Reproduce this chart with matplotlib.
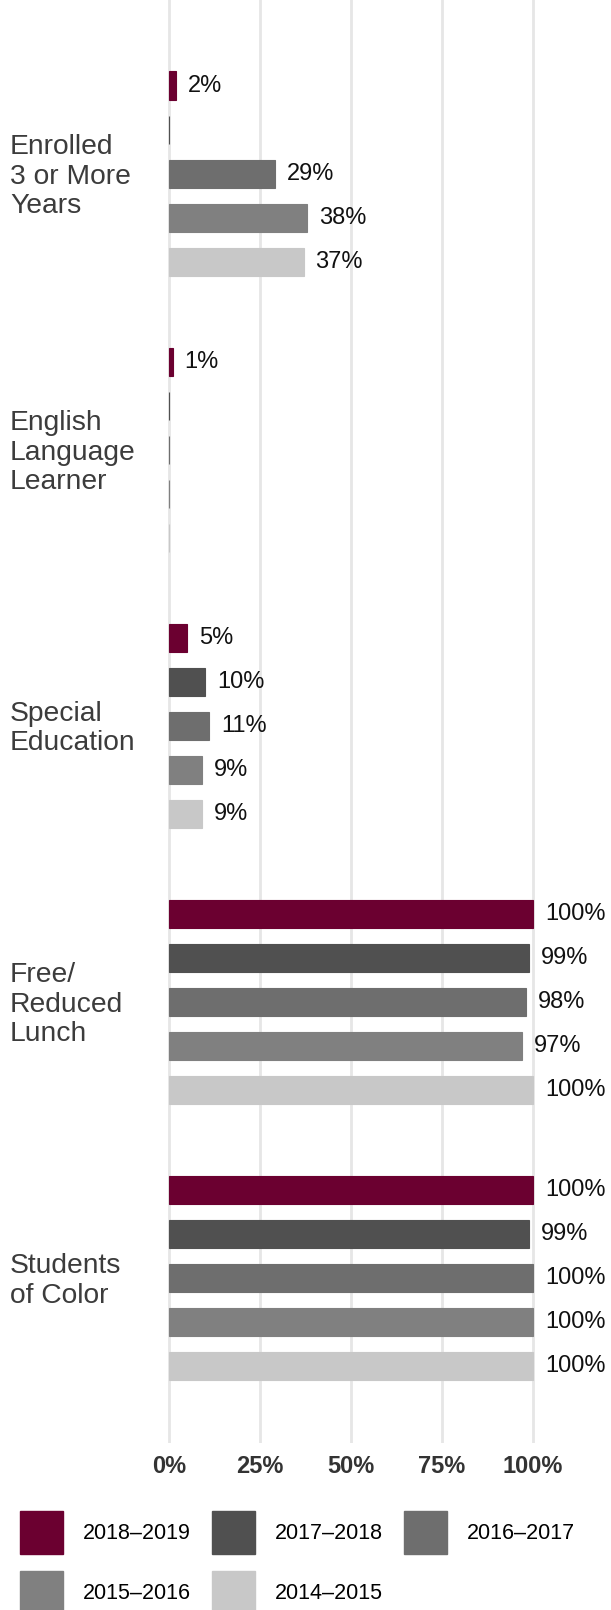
import matplotlib
matplotlib.use("Agg")
import matplotlib.pyplot as plt
import matplotlib.transforms as mtransforms
import numpy as np

plt.rcParams["font.family"] = ["Liberation Sans", "DejaVu Sans"]

categories = [
    "Enrolled\n3 or More\nYears",
    "English\nLanguage\nLearner",
    "Special\nEducation",
    "Free/\nReduced\nLunch",
    "Students\nof Color",
]
years = ["2018\u20132019", "2017\u20132018", "2016\u20132017", "2015\u20132016", "2014\u20132015"]
colors = ["#6b0030", "#505050", "#6e6e6e", "#808080", "#c8c8c8"]

# percent values per school year, one entry per category
values = {
    "2018\u20132019": [2, 1, 5, 100, 100],
    "2017\u20132018": [0, 0, 10, 99, 99],
    "2016\u20132017": [29, 0, 11, 98, 100],
    "2015\u20132016": [38, 0, 9, 97, 100],
    "2014\u20132015": [37, 0, 9, 100, 100],
}
xticks = [0, 25, 50, 75, 100]

W, H = 611, 1610
fig = plt.figure(figsize=(W / 100, H / 100), dpi=100)
x0, x1 = 165.4, 536.6
ax = fig.add_axes([x0 / W, (H - 1443) / H, (x1 - x0) / W, 1443 / H])

step = 0.16
bar_h = 0.102
group_y = np.arange(len(categories))
for j, yr in enumerate(years):
    ys = group_y + (j - 2) * step
    vals = values[yr]
    ax.barh(ys, vals, height=bar_h, color=colors[j], edgecolor=colors[j],
            linewidth=0.8, zorder=2)
    for y, v in zip(ys, vals):
        if v > 0:
            ax.annotate(f"{v}%", xy=(v, y), xytext=(8.5, 0),
                        textcoords="offset points", va="center", ha="left",
                        fontsize=17, color="#111111")

ax.set_xlim(-1, 101)
ax.set_ylim(4.598, -0.630)
ax.set_xticks(xticks)
ax.set_xticklabels([f"{t}%" for t in xticks], fontsize=17, fontweight="bold",
                   color="#333333")
ax.tick_params(axis="x", length=0, pad=8.5)
ax.set_yticks([])
ax.xaxis.grid(True, color="#e6e6e6", linewidth=2)
ax.set_axisbelow(True)
for s in ax.spines.values():
    s.set_visible(False)

trans = mtransforms.blended_transform_factory(fig.transFigure, ax.transData)
for y, cat in zip(group_y, categories):
    ax.text(10 / W, y + 0.01, cat, transform=trans, ha="left", va="center",
            fontsize=20.3, color="#3c3c3c", linespacing=1.18)

# legend laid out row by row: reorder for column-major filling
handles = [plt.Rectangle((0, 0), 1, 1, color=c) for c in colors]
order = [0, 3, 1, 4, 2]
fig.legend([handles[i] for i in order], [years[i] for i in order],
           loc="upper left", bbox_to_anchor=(20 / W, 1 - 1511 / H),
           ncol=3, frameon=False, fontsize=15.5, borderpad=0, borderaxespad=0,
           handlelength=2.0, handleheight=2.7, handletextpad=0.92,
           columnspacing=0.98, labelspacing=0.79)

fig.savefig("out.png", dpi=100)
